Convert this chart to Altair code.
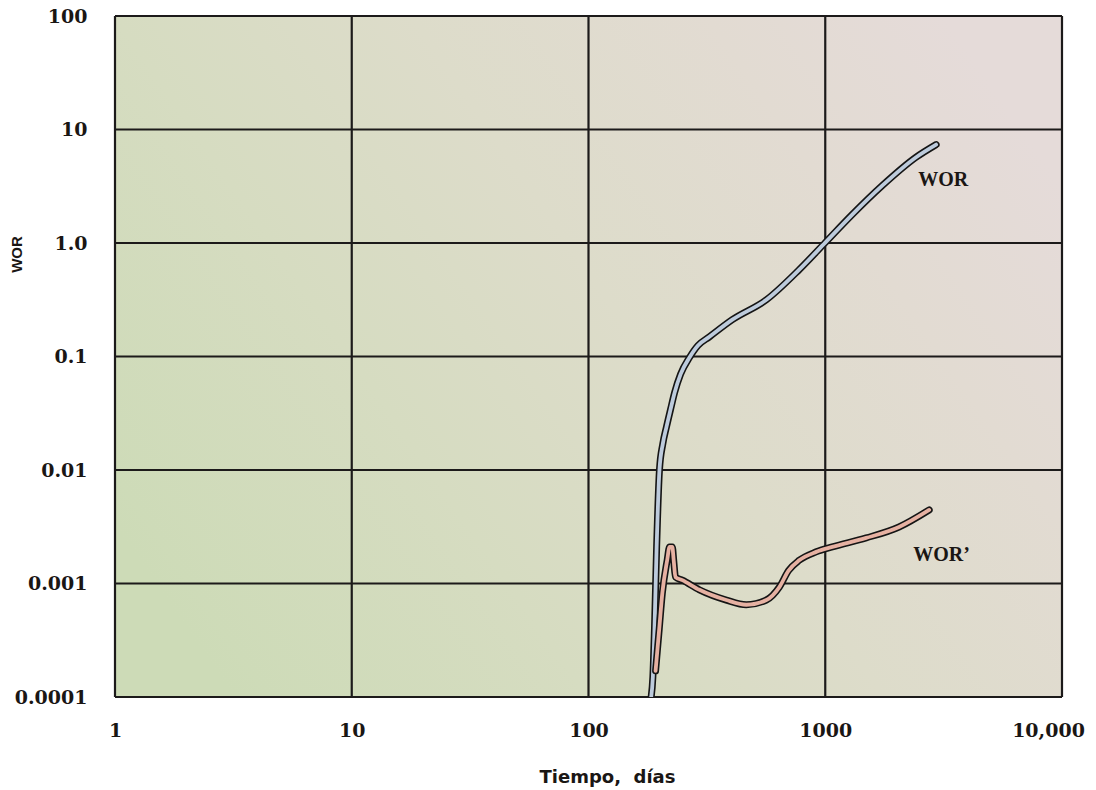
import altair as alt
import pandas as pd

# ---- data ----
wor_t = [184, 187, 190, 194, 199.4, 206, 213.5, 222, 231, 245, 267, 290, 324, 405, 564, 776, 1000, 1300, 1740, 2420, 2940]
wor_v = [0.0001, 0.00015, 0.0004, 0.0021, 0.01, 0.017, 0.024, 0.034, 0.048, 0.07, 0.098, 0.125, 0.149, 0.211, 0.316, 0.582, 1.007, 1.78, 3.2, 5.7, 7.36]

word_t = [192, 199, 205, 215, 220, 226, 229, 233, 249, 294, 382, 464, 564, 640, 700, 776, 916, 1071, 1489, 2050, 2748]
word_v = [0.00017, 0.0004, 0.00082, 0.00161, 0.0021, 0.0021, 0.0016, 0.00114, 0.00107, 0.00088, 0.000715, 0.00065, 0.000715, 0.00093, 0.0013, 0.0016, 0.0019, 0.0021, 0.00252, 0.00315, 0.00445]

x_ticks = [1, 10, 100, 1000, 10000]
x_tick_labels = ["1", "10", "100", "1000", "10,000"]
y_ticks = [0.0001, 0.001, 0.01, 0.1, 1, 10, 100]
y_tick_labels = ["0.0001", "0.001", "0.01", "0.1", "1.0", "10", "100"]

series_labels = ["WOR", "WOR\u2019"]
label_t = [3150, 3100]
label_v = [3.6, 0.00178]

# ---- helpers ----
def label_expr(vals, labels):
    expr = "''"
    for v, l in reversed(list(zip(vals, labels))):
        expr = f"datum.value == {v!r} ? '{l}' : ({expr})"
    return expr

xs = alt.Scale(type="log", domain=[1, 10000], nice=False)
ys = alt.Scale(type="log", domain=[0.0001, 100], nice=False)

grid_col = "#1c1a1a"
lab_col = "#1a1614"

xaxis = alt.Axis(
    values=x_ticks, labelExpr=label_expr(x_ticks, x_tick_labels),
    grid=False, ticks=False, domain=False, labelFlush=False, labelOverlap=False,
    labelFont="DejaVu Serif", labelFontWeight="bold", labelFontSize=19, labelColor=lab_col,
    labelPadding=24, labelBaseline="top",
    labelOffset={"condition": {"test": "datum.value == 10000", "value": -14},
                 "value": 0},
    title="Tiempo,\u00a0\u00a0días", titleFont="DejaVu Sans", titleFontWeight="bold", titleFontSize=18,
    titleColor=lab_col, titleX=492, titleY=85, titleBaseline="alphabetic", titleAlign="center",
)
yaxis = alt.Axis(
    values=y_ticks, labelExpr=label_expr(y_ticks, y_tick_labels),
    grid=False, ticks=False, domain=False, labelOverlap=False,
    labelFont="DejaVu Serif", labelFontWeight="bold", labelFontSize=19, labelColor=lab_col,
    labelPadding=28,
    title="WOR", titleFont="Liberation Sans", titleFontWeight="bold", titleFontSize=15,
    titleColor=lab_col, titleX=-99, titleY=238, titleAngle=270, titleAlign="center",
    titleBaseline="middle",
)

def X(f):
    return alt.X(f, type="quantitative", scale=xs, axis=xaxis)

def Y(f):
    return alt.Y(f, type="quantitative", scale=ys, axis=yaxis)

bg_df = pd.DataFrame({"x": [x_ticks[0]], "x2": [x_ticks[-1]], "y": [y_ticks[0]], "y2": [y_ticks[-1]]})
grad = alt.LinearGradient(
    gradient="linear",
    stops=[alt.GradientStop(color="#cddbb7", offset=0),
           alt.GradientStop(color="#d6dcc1", offset=0.3),
           alt.GradientStop(color="#dddcca", offset=0.55),
           alt.GradientStop(color="#e2dbd2", offset=0.8),
           alt.GradientStop(color="#e5dbd9", offset=1)],
    x1=0, y1=0.75, x2=1, y2=0.25,
)
bg = alt.Chart(bg_df).mark_rect(color=grad).encode(
    x=X("x"), x2="x2", y=Y("y"), y2="y2")

vr = alt.Chart(pd.DataFrame({"t": x_ticks})).mark_rule(color=grid_col, strokeWidth=2.2).encode(x=X("t"))
hr = alt.Chart(pd.DataFrame({"v": y_ticks})).mark_rule(color=grid_col, strokeWidth=2.2).encode(y=Y("v"))

wor_df = pd.DataFrame({"t": wor_t, "v": wor_v})
word_df = pd.DataFrame({"t": word_t, "v": word_v})

def curve(df, col):
    base = alt.Chart(df).encode(x=X("t"), y=Y("v"), order=alt.Order("t:Q"))
    outline = base.mark_line(color="#151515", strokeWidth=7, interpolate="monotone",
                             strokeCap="round", clip=True)
    inner = base.mark_line(color=col, strokeWidth=3.8, interpolate="monotone",
                           strokeCap="round", clip=True)
    return outline + inner

lab_df = pd.DataFrame({"t": label_t, "v": label_v, "s": series_labels})
labels = alt.Chart(lab_df).mark_text(
    font="Liberation Serif", fontWeight="bold", fontSize=20, color=lab_col,
    align="center", baseline="middle").encode(x=X("t"), y=Y("v"), text="s:N")

chart = alt.layer(bg, vr, hr, curve(wor_df, "#bdcbdc"), curve(word_df, "#e6b1a2"), labels).properties(
    width=947, height=681,
    autosize=alt.AutoSizeParams(type="none"),
    padding={"left": 115, "top": 16, "right": 34, "bottom": 93},
    background="white",
).configure_view(stroke=None)

chart.save("out.html", embed_options={"renderer": "svg", "actions": False})
